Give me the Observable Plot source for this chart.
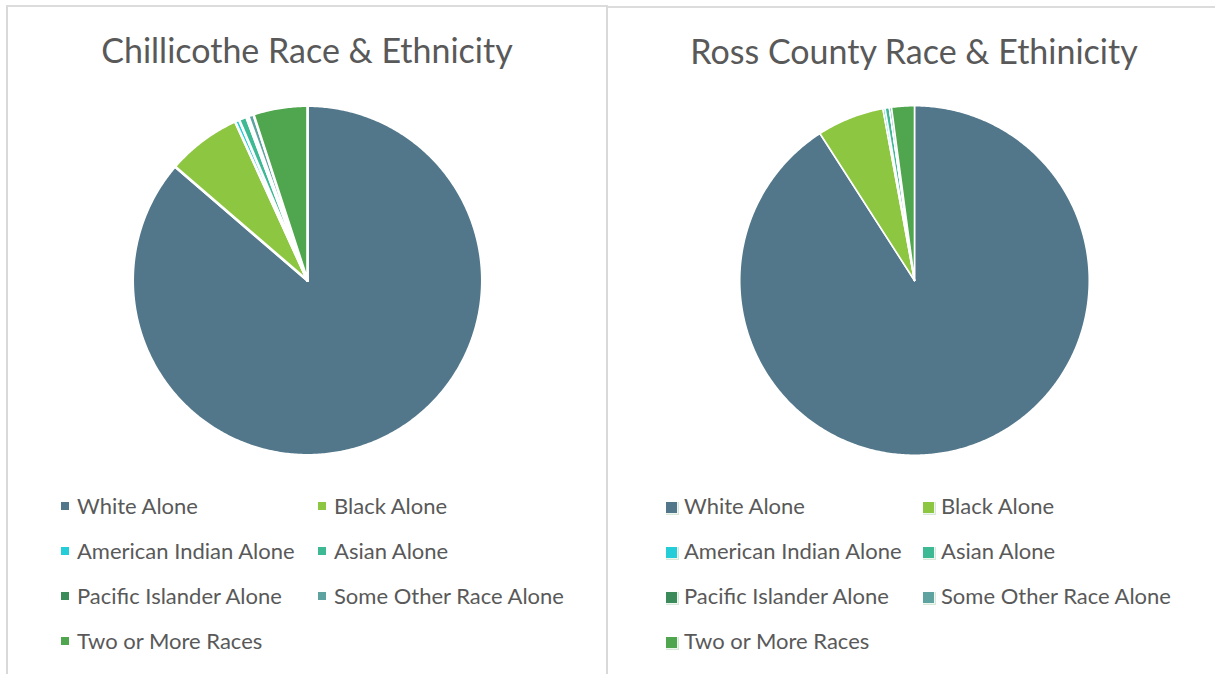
<!DOCTYPE html>
<html>
<head>
<meta charset="utf-8">
<script src="https://cdn.jsdelivr.net/npm/d3@7"></script>
<script src="https://cdn.jsdelivr.net/npm/@observablehq/plot@0.6"></script>
<style>
  html, body { margin: 0; padding: 0; background: #fff; }
  body { width: 1215px; height: 674px; position: relative; overflow: hidden; font-family: Lato, "Open Sans", sans-serif; color: #595959; }
  .panel { position: absolute; box-sizing: border-box; }
  #p1 { left: 6px; top: 5px; width: 602px; height: 700px; border-left: 2px solid #d9d9d9; border-top: 2px solid #dcdcdc; border-right: 2px solid #d9d9d9; }
  #p2 { left: 608px; top: 6px; width: 612px; height: 700px; border-top: 2px solid #dcdcdc; }
  .title { position: absolute; top: 22px; width: 100%; text-align: center; font-size: 34px; font-weight: 400; white-space: nowrap; }
  .pie { position: absolute; top: 99px; }
  .legend { position: absolute; top: 487px; font-size: 22px; }
  .item { position: absolute; height: 24px; line-height: 24px; white-space: nowrap; }
  .sw { position: absolute; top: 8px; }
  .lab { position: absolute; }
</style>
</head>
<body>
<div class="panel" id="p1"><div class="title" id="t1"></div><div class="pie" id="pie1"></div><div class="legend" id="lg1"></div></div>
<div class="panel" id="p2"><div class="title" id="t2"></div><div class="pie" id="pie2"></div><div class="legend" id="lg2"></div></div>
<script>
const titles = ["Chillicothe Race & Ethnicity", "Ross County Race & Ethinicity"];
const categories = ["White Alone", "Black Alone", "American Indian Alone", "Asian Alone", "Pacific Islander Alone", "Some Other Race Alone", "Two or More Races"];
const chillicotheValues = [86.3, 6.9, 0.4, 0.7, 0.2, 0.5, 5.0];
const rossCountyValues = [90.9, 6.2, 0.2, 0.4, 0.0, 0.2, 2.1];
const colors = ["#52778b", "#8dc640", "#25cdd9", "#3db994", "#3b8a59", "#5fa3a1", "#4fa64e"];

function slicePoints(values) {
  const arcs = d3.pie().sort(null).startAngle(0).endAngle(2 * Math.PI)(values);
  const pts = [];
  arcs.forEach((a, i) => {
    const cat = categories[i];
    pts.push({cat, x: 0, y: 0});
    const n = Math.max(2, Math.ceil((a.endAngle - a.startAngle) / 0.01));
    for (let k = 0; k <= n; k++) {
      const t = a.startAngle + (a.endAngle - a.startAngle) * k / n;
      pts.push({cat, x: Math.sin(t), y: Math.cos(t)});
    }
    pts.push({cat, x: 0, y: 0});
  });
  return pts;
}

function pie(values, size, sw) {
  return Plot.plot({
    width: size, height: size, margin: 0,
    x: {domain: [-1.03, 1.03], axis: null},
    y: {domain: [-1.03, 1.03], axis: null},
    color: {type: "ordinal", domain: categories, range: colors, legend: false},
    marks: [
      Plot.line(slicePoints(values), {x: "x", y: "y", z: "cat", fill: "cat", stroke: "white", strokeWidth: sw, strokeLinejoin: "round"})
    ]
  });
}

function legend(el, opts) {
  categories.forEach((c, i) => {
    const col = i % 2, row = Math.floor(i / 2);
    const d = document.createElement("div");
    d.className = "item";
    d.style.left = (col === 0 ? opts.x0 : opts.x1) + "px";
    d.style.top = (row * 45) + "px";
    const s = document.createElement("span");
    s.className = "sw";
    s.style.width = opts.sq + "px"; s.style.height = opts.sq + "px";
    s.style.left = "0px";
    s.style.background = colors[i];
    if (opts.border) s.style.boxShadow = "0 0 0 1px rgba(255,255,255,0.6), 1px 1px 0 1px #d8e8d8";
    const l = document.createElement("span");
    l.className = "lab"; l.style.left = opts.tx + "px";
    l.textContent = c;
    d.appendChild(s); d.appendChild(l);
    el.appendChild(d);
  });
}

document.getElementById("t1").textContent = titles[0];
document.getElementById("t2").textContent = titles[1];
const size = 360;
const p1 = document.getElementById("pie1");
p1.style.left = (307 - 8 - size / 2) + "px";
p1.appendChild(pie(chillicotheValues, size, 2.6));
const p2 = document.getElementById("pie2");
p2.style.left = (914 - 608 - size / 2) + "px";
p2.appendChild(pie(rossCountyValues, size, 1.6));
p1.style.top = (280 - 7 - size / 2) + "px";
p2.style.top = (280 - 8 - size / 2) + "px";

const lg1 = document.getElementById("lg1");
lg1.style.left = (61 - 8) + "px";
legend(lg1, {x0: 0, x1: 257, sq: 8, tx: 16});
const lg2 = document.getElementById("lg2");
lg2.style.left = (666 - 608) + "px";
lg2.style.top = "486px";
legend(lg2, {x0: 0, x1: 257, sq: 11, tx: 18, border: true});
</script>
</body>
</html>
